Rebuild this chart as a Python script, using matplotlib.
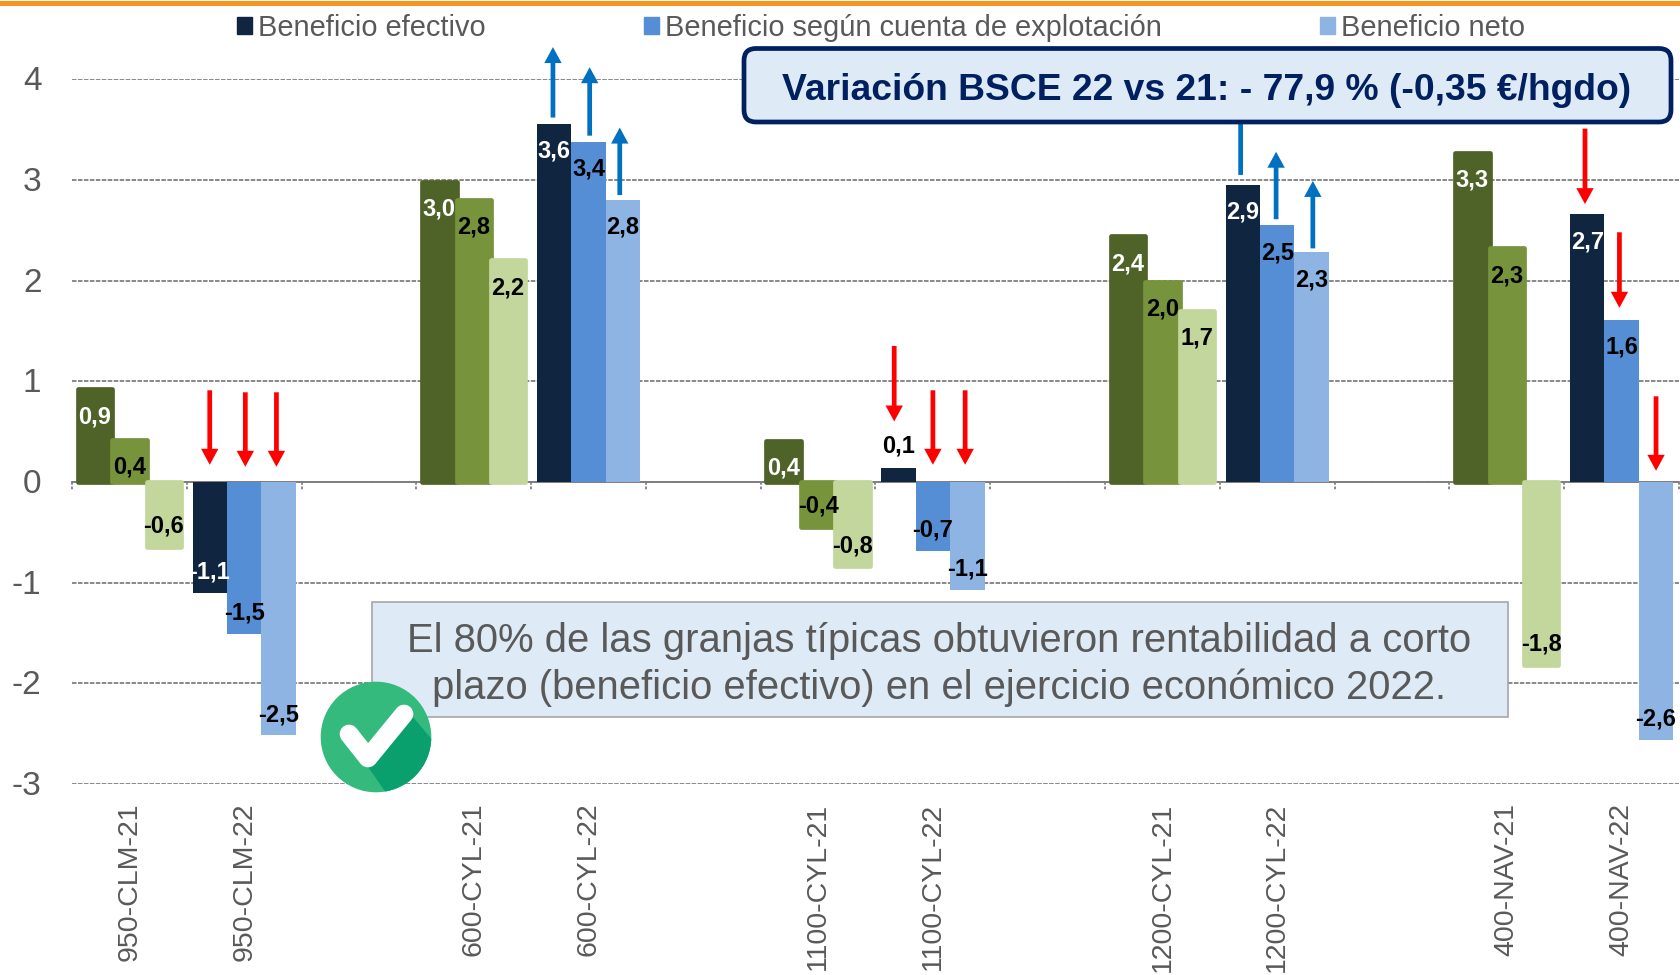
import matplotlib
matplotlib.use("Agg")
import matplotlib.pyplot as plt
from matplotlib.patches import Rectangle, FancyBboxPatch, Circle, Polygon, Patch
from matplotlib.transforms import ScaledTranslation

plt.rcParams['font.family'] = ['Liberation Sans', 'DejaVu Sans']

categories = ['950-CLM-21', '950-CLM-22', '', '600-CYL-21', '600-CYL-22', '',
              '1100-CYL-21', '1100-CYL-22', '', '1200-CYL-21', '1200-CYL-22', '',
              '400-NAV-21', '400-NAV-22']
efectivo = [0.92, -1.10, None, 2.98, 3.56, None, 0.41, 0.14, None, 2.44, 2.95, None, 3.27, 2.66]
explotacion = [0.42, -1.51, None, 2.80, 3.38, None, -0.45, -0.69, None, 1.99, 2.55, None, 2.32, 1.61]
neto = [-0.65, -2.52, None, 2.20, 2.80, None, -0.84, -1.07, None, 1.70, 2.28, None, -1.82, -2.56]
labels_efectivo = ['0,9', '-1,1', '', '3,0', '3,6', '', '0,4', '0,1', '', '2,4', '2,9', '', '3,3', '2,7']
labels_explotacion = ['0,4', '-1,5', '', '2,8', '3,4', '', '-0,4', '-0,7', '', '2,0', '2,5', '', '2,3', '1,6']
labels_neto = ['-0,6', '-2,5', '', '2,2', '2,8', '', '-0,8', '-1,1', '', '1,7', '2,3', '', '-1,8', '-2,6']
series_names = ['Beneficio efectivo', 'Beneficio según cuenta de explotación', 'Beneficio neto']
y_ticks = [-3, -2, -1, 0, 1, 2, 3, 4]
y_labels = ['-3', '-2', '-1', '0', '1', '2', '3', '4']

# (category, series, sideways nudge, tail value, tip value)
arrows_up = [(4, 0, -0.01, 3.62, 4.32), (4, 1, 0.01, 3.44, 4.12), (4, 2, -0.028, 2.85, 3.52),
             (10, 0, -0.019, 3.05, 3.72), (10, 1, -0.01, 2.61, 3.28), (10, 2, 0.01, 2.32, 2.99)]
arrows_down = [(1, 0, 0.0, 0.91, 0.17), (1, 1, 0.01, 0.89, 0.15), (1, 2, -0.019, 0.89, 0.15),
               (7, 0, -0.037, 1.35, 0.60), (7, 1, 0.0, 0.91, 0.17), (7, 2, -0.019, 0.91, 0.17),
               (13, 0, -0.019, 3.51, 2.76), (13, 1, -0.019, 2.48, 1.73), (13, 2, 0.0, 0.85, 0.11)]

GREENS = ['#4F6228', '#77933C', '#C3D69B']
BLUES = ['#10253F', '#558ED5', '#8EB4E3']
GREY = '#595959'
GRID = '#7F7F7F'

fig = plt.figure(figsize=(16.8, 9.75), dpi=100, facecolor='white')
ax = fig.add_axes([72 / 1680, 1 - 783.8 / 975, 1607 / 1680, 704.5 / 975])
ax.set_xlim(-0.5, 13.5)
ax.set_ylim(-3, 4)
ax.patch.set_visible(False)
for s in ['top', 'left', 'right']:
    ax.spines[s].set_visible(False)
ax.spines['bottom'].set_position(('data', 0))
ax.spines['bottom'].set_color(GRID)
ax.spines['bottom'].set_linewidth(1.3)
ax.spines['bottom'].set_linestyle((0, (2.5, 0.8)))

ax.set_yticks(y_ticks, y_labels, fontsize=24, color=GREY)
ax.tick_params(axis='y', length=0, pad=22)
ax.yaxis.grid(True, color=GRID, lw=1.3, ls=(0, (2.5, 0.8)))
ax.set_axisbelow(True)
for lab in ax.get_yticklabels():
    lab.set_transform(lab.get_transform() + ScaledTranslation(0, 1 / 100, fig.dpi_scale_trans))

positions = list(range(len(categories)))
edges = [p - 0.5 for p in positions] + [positions[-1] + 0.5]
ax.set_xticks(edges, [''] * len(edges))
ax.set_xticks(positions, categories, minor=True, rotation=90, fontsize=20.5, color=GREY, va='top', ha='center')
ax.tick_params(axis='x', which='minor', length=0, pad=231)
ax.tick_params(axis='x', which='major', length=0)
for p in edges:
    ax.plot([p, p], [0, -0.08], color=GRID, lw=1.3, ls=(0, (1.5, 1)), clip_on=False, zorder=1)

offsets = [-0.3, 0.0, 0.3]
all_series = [efectivo, explotacion, neto]
all_labels = [labels_efectivo, labels_explotacion, labels_neto]
width = 0.3
for si, vals in enumerate(all_series):
    for c, v in enumerate(vals):
        if v is None:
            continue
        x = c + offsets[si]
        if c % 3 == 0:  # 2021 bars: green, rounded
            ax.bar(x, v, width=width, color=GREENS[si], edgecolor=GREENS[si], linewidth=3.4,
                   joinstyle='round', zorder=3 + si * 0.1)
        else:
            ax.bar(x, v, width=width, color=BLUES[si], edgecolor='none', zorder=3 + si * 0.1)

for si, (vals, labs) in enumerate(zip(all_series, all_labels)):
    for c, v in enumerate(vals):
        if v is None:
            continue
        x = c + offsets[si]
        outside = labs[c] == '0,1'
        white = si == 0 and not outside
        if v > 0:
            dy = 16 if outside else -19.7
        else:
            dy = 15
        ax.annotate(labs[c], (x, v), xytext=(0, dy), textcoords='offset points', ha='center', va='center',
                    fontsize=17, fontweight='bold', color='white' if white else 'black', zorder=6)

for arrows, col in [(arrows_up, '#0070C0'), (arrows_down, '#FF0000')]:
    for c, si, nudge, tail, tip in arrows:
        x = c + offsets[si] + nudge
        ax.annotate('', xy=(x, tip), xytext=(x, tail), annotation_clip=False, zorder=4,
                    arrowprops=dict(width=3.4, headwidth=12.5, headlength=11.5, color=col, shrink=0, lw=0))

# Overlay in pixel coordinates for the page furniture
ov = fig.add_axes([0, 0, 1, 1], zorder=5)
ov.set_xlim(0, 1680)
ov.set_ylim(975, 0)
ov.axis('off')
ov.add_patch(Rectangle((0, 0.5), 1680, 5.8, color='#F7941E', lw=0))

ov.add_patch(FancyBboxPatch((744, 48.5), 927, 73.5, boxstyle='round,pad=0,rounding_size=12',
                            fc='#DEEAF6', ec='#002060', lw=3.4))
ov.text(1207, 90, 'Variación BSCE 22 vs 21: - 77,9 % (-0,35 €/hgdo)', ha='center', va='center',
        fontsize=26.8, fontweight='bold', color='#002060')

ov.add_patch(Rectangle((371.5, 602), 1136.5, 115, fc='#DEEAF6', ec='#A6A6A6', lw=1.2))
ov.text(939, 641, 'El 80% de las granjas típicas obtuvieron rentabilidad a corto', ha='center', va='center',
        fontsize=28.8, color=GREY)
ov.text(939, 688, 'plazo (beneficio efectivo) en el ejercicio económico 2022.', ha='center', va='center',
        fontsize=28.8, color=GREY)

circle = Circle((376, 737), 55.3, fc='#33BA7C', ec='none')
ov.add_patch(circle)
shade = Polygon([(413, 717), (450, 761), (450, 800), (391, 800), (366, 764)], closed=True, fc='#0AA06E', ec='none')
ov.add_patch(shade)
shade.set_clip_path(circle)
ov.plot([349, 368, 404], [734, 758, 714], color='white', lw=13.5, solid_capstyle='round', solid_joinstyle='round')

handles = [Patch(color=BLUES[i], label=series_names[i]) for i in range(3)]
leg = ov.legend(handles=handles, ncol=3, loc='center', bbox_to_anchor=(881 / 1680, 1 - 27.5 / 975),
                bbox_transform=fig.transFigure, frameon=False, fontsize=20.9, labelcolor=GREY,
                handlelength=0.51, handleheight=0.51, handletextpad=0.2, columnspacing=5.46,
                borderpad=0, borderaxespad=0)

fig.savefig('out.png', dpi=100, facecolor='white')
